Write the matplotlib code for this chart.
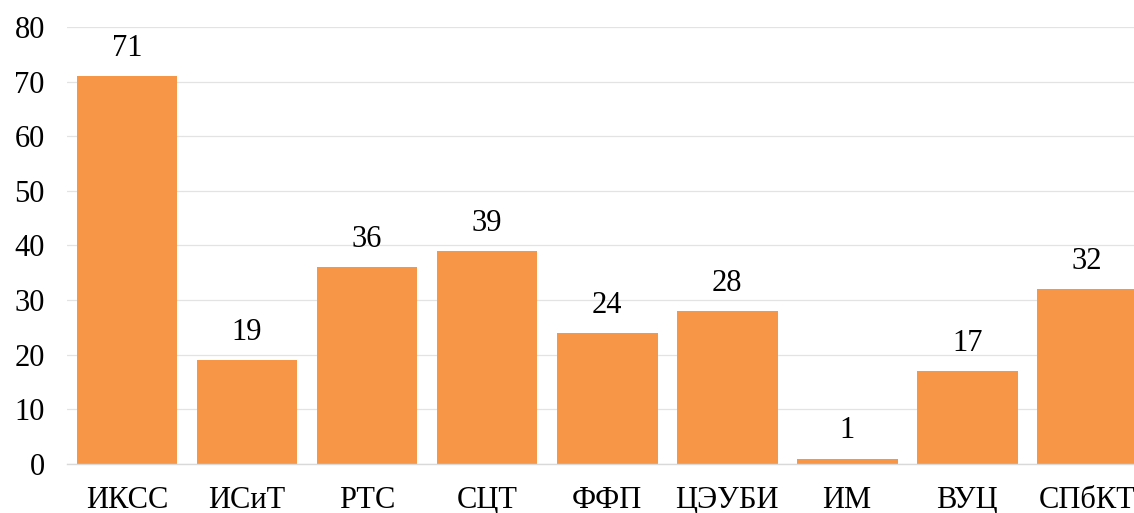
import numpy as np
import matplotlib.pyplot as plt

cats = ['ИКСС', 'ИСиТ', 'РТС', 'СЦТ', 'ФФП', 'ЦЭУБИ', 'ИМ', 'ВУЦ', 'СПбКТ']
vals = [71, 19, 36, 39, 24, 28, 1, 17, 32]

plt.rcParams['font.family'] = ['Liberation Serif', 'DejaVu Serif']

fig = plt.figure(figsize=(11.34, 5.13), dpi=100)
ax = fig.add_axes([67/1134, 49/513, (1134-67)/1134, 437/513])

x = np.arange(len(cats))
bars = ax.bar(x, vals, width=0.84, color='#F79646', zorder=3)
for xi, v in zip(x, vals):
    ax.text(xi, v + 2.4, str(v), ha='center', va='bottom', fontsize=22, color='#000000')

ax.set_xlim(-0.5, 8.39)
ax.set_ylim(0, 80)
ax.set_yticks(range(0, 81, 10))
ax.set_xticks(x)
ax.set_xticklabels(cats)
ax.tick_params(axis='both', length=0, labelsize=22)
ax.tick_params(axis='x', pad=16)
ax.tick_params(axis='y', pad=16)
ax.grid(axis='y', color='#e3e3e3', linewidth=0.9, zorder=0)
for s in ['top', 'right', 'left']:
    ax.spines[s].set_visible(False)
ax.spines['bottom'].set_color('#d9d9d9')
ax.spines['bottom'].set_linewidth(1)
ax.spines['bottom'].set_zorder(4)

fig.savefig('out.png', dpi=100)
